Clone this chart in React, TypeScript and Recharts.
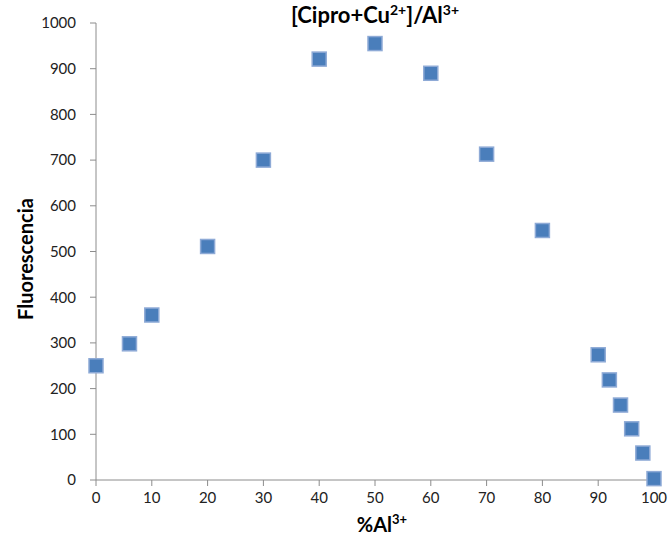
import {
  ScatterChart, Scatter, XAxis, YAxis, Label,
} from 'recharts';

// %Al3+ in the mix vs. measured fluorescence
const AL_PERCENT = [0, 6, 10, 20, 30, 40, 50, 60, 70, 80, 90, 92, 94, 96, 98, 100];
const FLUORESCENCE = [250, 298, 361, 511, 700, 921, 955, 890, 713, 546, 274, 219, 164, 112, 59, 3];
const X_TICKS = [0, 10, 20, 30, 40, 50, 60, 70, 80, 90, 100];
const Y_TICKS = [0, 100, 200, 300, 400, 500, 600, 700, 800, 900, 1000];

const points = AL_PERCENT.map((x, i) => ({ x, y: FLUORESCENCE[i] }));

const FONT = "Lato, 'Open Sans', sans-serif";
const AXIS_COLOR = '#8c8c8c';
const MARKER_FILL = '#4a7ebb';
const MARKER_EDGE = '#8eaad6';

function SquareMarker(props: any) {
  const { cx, cy } = props;
  const s = 14;
  return (
    <rect
      x={cx - s / 2}
      y={cy - s / 2}
      width={s}
      height={s}
      fill={MARKER_FILL}
      stroke={MARKER_EDGE}
      strokeWidth={1.5}
    />
  );
}

export default function App() {
  return (
    <div style={{ position: 'absolute', left: 0, top: 0, width: 668, height: 537, background: '#fff' }}>
      <ScatterChart width={668} height={537} margin={{ top: 23, right: 14, bottom: 0, left: 0 }}>
        <text x={375} y={23} textAnchor="middle" fontFamily={FONT} fontWeight={700} fontSize={22} fill="#000">
          [Cipro+Cu<tspan fontSize={14} dy={-8}>2+</tspan>
          <tspan dy={8}>]/Al</tspan>
          <tspan fontSize={14} dy={-8}>3+</tspan>
        </text>
        <XAxis
          type="number"
          dataKey="x"
          domain={[0, 100]}
          ticks={X_TICKS}
          interval={0}
          stroke={AXIS_COLOR}
          tickSize={6}
          tickMargin={6}
          height={57}
          tick={{ fontSize: 15, fill: '#222', fontFamily: FONT }}
        >
          <Label
            content={() => (
              <text x={382} y={532} textAnchor="middle" fontFamily={FONT} fontWeight={700} fontSize={20} fill="#000">
                %Al<tspan fontSize={13} dy={-8}>3+</tspan>
              </text>
            )}
          />
        </XAxis>
        <YAxis
          type="number"
          dataKey="y"
          domain={[0, 1000]}
          ticks={Y_TICKS}
          interval={0}
          stroke={AXIS_COLOR}
          tickSize={6}
          tickMargin={14}
          width={96}
          tick={{ fontSize: 15, fill: '#222', fontFamily: FONT }}
        >
          <Label
            content={() => (
              <text
                x={25}
                y={259}
                transform="rotate(-90 25 259)"
                textAnchor="middle"
                dominantBaseline="central"
                fontFamily={FONT}
                fontWeight={700}
                fontSize={20}
                fill="#000"
              >
                Fluorescencia
              </text>
            )}
          />
        </YAxis>
        <Scatter data={points} shape={<SquareMarker />} isAnimationActive={false} />
      </ScatterChart>
    </div>
  );
}
